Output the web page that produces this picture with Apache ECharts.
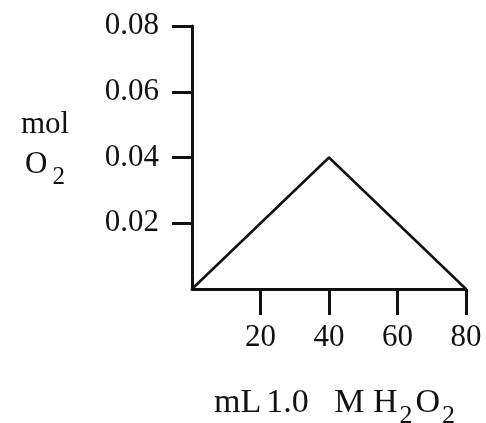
<!DOCTYPE html>
<html>
<head>
<meta charset="utf-8">
<script src="https://cdn.jsdelivr.net/npm/echarts@6/dist/echarts.min.js"></script>
<style>html,body{margin:0;padding:0;background:#fff;overflow:hidden}#c{width:486px;height:423px}</style>
</head>
<body>
<div id="c"></div>
<script>
var volumes = [0, 40, 80];
var molO2 = [0, 0.04, 0];
var xTicks = [20, 40, 60, 80];
var yTicks = [0.02, 0.04, 0.06, 0.08];

var FONT = '"Liberation Serif", "DejaVu Serif", serif';
var chart = echarts.init(document.getElementById('c'));
chart.setOption({
  animation: false,
  backgroundColor: '#fff',
  grid: { left: 192, right: 20, top: 26, bottom: 134, containLabel: false, outerBoundsMode: 'none' },
  xAxis: {
    type: 'value', min: 0, max: 80, interval: 20,
    axisLine: { lineStyle: { color: '#111', width: 3 } },
    axisTick: { show: true, inside: false, length: 26, lineStyle: { color: '#111', width: 3 }, customValues: xTicks },
    axisLabel: { color: '#111', fontFamily: FONT, fontSize: 31, margin: 33, customValues: xTicks },
    splitLine: { show: false },
    name: '{m|mL}{a|1.0   M H}{s|2}{a|O}{s|2}',
    nameLocation: 'middle', nameGap: 93,
    nameTextStyle: {
      padding: [0, 0, 0, 14],
      rich: {
        m: { fontFamily: FONT, fontSize: 34, color: '#111', lineHeight: 38, verticalAlign: 'bottom', padding: [0, 5, 0, 0] },
        a: { fontFamily: FONT, fontSize: 34, color: '#111', lineHeight: 38, verticalAlign: 'bottom' },
        s: { fontFamily: FONT, fontSize: 26, color: '#111', lineHeight: 38, verticalAlign: 'bottom', padding: [0, 3, -9, 2] }
      }
    }
  },
  yAxis: {
    type: 'value', min: 0, max: 0.08, interval: 0.02,
    axisLine: { show: true, lineStyle: { color: '#111', width: 3 } },
    axisTick: { show: true, inside: false, length: 20, lineStyle: { color: '#111', width: 3 }, customValues: yTicks },
    axisLabel: { color: '#111', fontFamily: FONT, fontSize: 31, margin: 33, customValues: yTicks,
      formatter: function (v) { return v.toFixed(2); } },
    splitLine: { show: false },
    name: '{a|mol}\n{a|O}{s|2}',
    nameLocation: 'middle', nameRotate: 0, nameGap: 147,
    nameTextStyle: {
      align: 'center',
      padding: [0, 0, 34, 0],
      rich: {
        a: { fontFamily: FONT, fontSize: 31, color: '#111', lineHeight: 40, verticalAlign: 'bottom' },
        s: { fontFamily: FONT, fontSize: 25, color: '#111', lineHeight: 40, verticalAlign: 'bottom', padding: [0, 0, -9, 5] }
      }
    }
  },
  series: [{
    type: 'line',
    data: volumes.map(function (v, i) { return [v, molO2[i]]; }),
    symbol: 'none',
    lineStyle: { color: '#111', width: 2.5 }
  }]
});
</script>
</body>
</html>
